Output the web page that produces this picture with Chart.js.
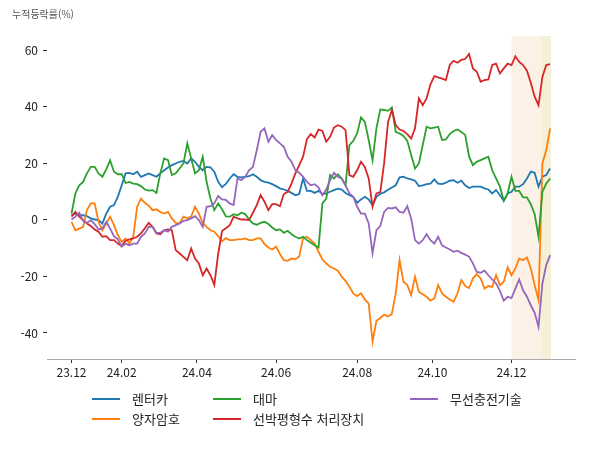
<!DOCTYPE html>
<html lang="ko">
<head>
<meta charset="utf-8">
<script src="https://cdn.jsdelivr.net/npm/chart.js@4.4.1/dist/chart.umd.min.js"></script>
<style>
  body { margin: 0; background: #fff; font-family: "Noto Sans CJK KR", "DejaVu Sans", sans-serif; }
  #wrap { position: relative; width: 600px; height: 450px; }
  #unit { position: absolute; left: 12px; top: 6px; font-size: 10px; color: #555; }
  .item { position: absolute; font-size: 13px; color: #222; white-space: nowrap; line-height: 16px; }
  .item i { display: inline-block; width: 28px; height: 2px; vertical-align: middle; margin-right: 12px; position: relative; top: -1px; }
</style>
</head>
<body>
<div id="wrap">
  <canvas id="chart" width="600" height="450"></canvas>
  <div id="unit">누적등락률(%)</div>
  <div id="legend"></div>
</div>
<script>
// trading-day index of each sample (every 2nd session from 23.12.21)
const tradingDays = Array.from({ length: 125 }, (_, k) => k * 2);

const rentalCar = [
  1.6, 2.2, 1.6, 1.6, 1.3, 0.5, 0.1, -0.1, -1.3, 2.2,
  4.6, 5.2, 8.1, 12.2, 16.4, 16.6, 16.1, 17, 15.2, 15.8,
  16.4, 15.8, 15.2, 16.4, 17.5, 18.5, 19.3, 19.9, 20.5, 20.8,
  19.9, 21.7, 20.5, 18.7, 17.5, 18.7, 18.5, 17, 13.4, 11.5,
  12.7, 14.6, 16.1, 15.2, 15, 15.2, 15.4, 16.1, 15.2, 14,
  13.4, 13.1, 12.6, 11.9, 11.1, 10.7, 10.2, 9.5, 8.7, 9.1,
  14.6, 10.2, 10.2, 9.5, 10.2, 9.1, 9.3, 9.9, 10.5, 11,
  10.7, 9.5, 8.7, 8.1, 6, 7.2, 8.1, 7.2, 5.2, 8.1,
  9.2, 9.7, 10.6, 11.4, 12.2, 15, 15.2, 14.6, 14.3, 13.8,
  11.9, 12.2, 12.6, 12.8, 14.3, 12.8, 12.6, 13.1, 13.8, 14,
  13.1, 13.8, 12.2, 11.2, 11.7, 11.7, 11.7, 11.1, 10.7, 9.3,
  10.5, 8.7, 6.7, 9.3, 9.9, 11.7, 11.7, 12.6, 14.6, 17,
  16.6, 11.7, 15.2, 15.8, 18.1
];

const quantumCrypto = [
  -0.7, -3.7, -3.1, -2.5, 3.4, 5.8, 5.8, -0.7, -3.7, -1.3,
  1.1, -1.9, -5.4, -7.8, -6.6, -8.4, -6, 4.6, 7.5, 6,
  5, 3.4, 3.7, 2.8, 2.2, 2.8, 0.5, -1.1, -1.3, 1.1,
  0.5, 1.1, 4.6, 2.2, -1.1, -2.5, -3.7, -4.2, -5.8, -7.6,
  -6.5, -7.2, -7.2, -6.9, -6.9, -6.6, -7.2, -7.2, -6.6, -6.6,
  -8.6, -9.8, -10.5, -9.5, -12.1, -14.3, -14.5, -13.7, -14, -13,
  -6.5, -6, -7.2, -8.4, -11.3, -14, -15.4, -16.6, -17.2, -18,
  -20.1, -21.6, -23.7, -26, -27, -26, -28.2, -29.6, -43.1, -35.7,
  -34.7, -33.5, -34.2, -33.3, -26, -14.3, -21.9, -23.1, -26.6, -20.1,
  -25.4, -26.3, -27.2, -28.6, -27.8, -23.1, -26, -27.2, -28.2, -29,
  -26, -21.3, -23.4, -24.1, -20.7, -19.2, -20.7, -24.3, -23.4, -23.7,
  -19.6, -23.1, -21.9, -16.8, -19.6, -17.2, -13.7, -14.3, -13.3, -17.2,
  -23.1, -28.4, 19.9, 24.6, 32.3
];

const cannabis = [
  2.2, 9.3, 12.2, 13.4, 16.4, 18.7, 18.7, 16.4, 15.2, 17.8,
  21, 17, 16.1, 16.1, 13, 13.4, 12.8, 12.6, 11.9, 10.7,
  10.3, 10.5, 9.5, 16.4, 21.7, 21.1, 15.8, 16.4, 18.1, 19.9,
  27, 21.7, 16.4, 17.5, 22.3, 13.4, 7.5, 3.4, 5.8, 3.7,
  1.2, 1.1, 2, 1.6, 2.5, 2, 0.1, -1.3, -1.8, -1.1,
  -0.7, -1.5, -2.7, -3.7, -3.4, -4.6, -3.9, -5.1, -6, -6.6,
  -6, -7.2, -8.1, -9, -9.8, 5.8, 7.5, 15.8, 14.6, 16.1,
  14.6, 12.2, 26.4, 27.9, 30.5, 36.2, 34.6, 28.2, 21, 32.3,
  39, 38.8, 38.5, 39.7, 31.1, 30.5, 29.6, 27.9, 22.9, 18.1,
  19.9, 26.4, 32.9, 32.3, 32.6, 32.9, 28.2, 28.4, 30.3, 31.4,
  31.9, 31, 30, 22.4, 19.3, 20.5, 21.1, 21.7, 22.3, 17.5,
  14.6, 11.7, 6.7, 9.3, 15.2, 10.2, 10.2, 7.9, 7.9, 5.5,
  2, -6, 9.9, 12.8, 14.6
];

const ballastWater = [
  1.1, 2.8, 1.1, -0.1, -1.3, -2.2, -3.4, -4.2, -6, -5.8,
  -7.2, -7.2, -8.4, -9.3, -7.4, -6.9, -6.6, -6, -4.8, -3,
  -1.1, -2.5, -4.8, -5.1, -3.7, -3.4, -3.7, -10.7, -11.9, -13.1,
  -14.3, -10.1, -13.7, -15.4, -19.6, -17.2, -19.6, -23, -12, -4,
  -3, -1.9, 1.1, 0.5, 0.1, 0.1, -0.1, 2.5, 5.2, 8.7,
  6.4, 3.4, 5.5, 5.5, 4.8, 9.1, 9.9, 12.8, 16.4, 19.3,
  22.3, 28.5, 30.3, 29.1, 31.9, 31.4, 27.6, 29.3, 32.6, 33.4,
  32.9, 31.7, 15.8, 15.2, 17.5, 20.5, 18.7, 14.6, 4.6, 9.3,
  9.8, 20, 34.5, 38.8, 33.5, 31.9, 31.4, 30.3, 28.7, 32.3,
  42.9, 40.5, 42.9, 47.9, 50.8, 50.3, 49.9, 49.4, 54.7, 56.2,
  55.5, 56.5, 56.8, 58.6, 53.5, 52.3, 48.8, 49.4, 49.6, 54.7,
  55.2, 51.7, 53.5, 55.2, 54.7, 57.8, 55.8, 54.7, 52.7, 48.4,
  43.5, 40.5, 50.5, 54.7, 55
];

const wirelessCharging = [
  0.1, 1.1, 2.5, -0.4, -1.1, -0.1, -1.5, -3.4, -3.1, -0.7,
  -3.1, -5.8, -6.9, -9.5, -8.4, -9, -8.4, -8.4, -6, -4.8,
  -2.5, -2.5, -4.6, -4.6, -3.7, -4.2, -2.5, -1.9, -1.3, -0.4,
  -0.1, 0.5, 1.3, -0.1, -2.5, 4.6, 4.8, 5.8, 8.4, 7.2,
  7, 5.8, 5.2, 14.6, 14, 15.2, 17.5, 18.7, 24.6, 31.1,
  32.3, 27.6, 29.9, 28.2, 27, 25.8, 22.3, 20.5, 17.5, 16.6,
  15.2, 13.4, 12.2, 12.6, 11.4, 8.7, 10.7, 14, 16.6, 15.2,
  14.6, 12.2, 9.3, 8.1, 4.6, 2.2, 2.2, -1.3, -11.9, -3.7,
  -2.2, 2.8, 4.2, 4, 4.4, 2.8, 2.5, 4.8, 0.5, -7.2,
  -8.4, -7.2, -5.1, -7.2, -8.4, -6, -9, -9.8, -10.5, -11.3,
  -10.9, -11.7, -12.3, -13, -15.4, -18.4, -18.7, -18, -19.6, -21.1,
  -22.5, -25.1, -28.6, -27.2, -27.7, -24.3, -21.1, -24.9, -27.2, -30.2,
  -32.9, -37.8, -22.5, -16, -12.5
];

const seriesNames = ['렌터카', '양자암호', '대마', '선박평형수 처리장치', '무선충전기술'];
const seriesValues = [rentalCar, quantumCrypto, cannabis, ballastWater, wirelessCharging];
const seriesColors = ['#1f77b4', '#ff7f0e', '#2ca02c', '#d62728', '#9467bd'];

const tickDays = [0, 26, 65, 106, 148, 187, 228];
const tickLabels = ['23.12', '24.02', '24.04', '24.06', '24.08', '24.10', '24.12'];
const yTicks = [-40, -20, 0, 20, 40, 60];

// shaded periods (trading-day index from / to)
const spanStart = [228, 243.3];
const spanEnd = [243.3, 248.5];
const spanColors = ['#fbf1e7', '#f5f1d7'];

const shadePlugin = {
  id: 'shade',
  beforeDatasetsDraw(chart) {
    const { ctx, chartArea, scales } = chart;
    ctx.save();
    spanStart.forEach((s, k) => {
      const x1 = scales.x.getPixelForValue(s);
      const x2 = scales.x.getPixelForValue(spanEnd[k]);
      ctx.fillStyle = spanColors[k];
      ctx.fillRect(x1, chartArea.top, x2 - x1, chartArea.bottom - chartArea.top);
    });
    ctx.restore();
  }
};

const font = { family: '"Noto Sans CJK KR", "DejaVu Sans", sans-serif', size: 12 };

const chart = new Chart(document.getElementById('chart'), {
  type: 'line',
  data: {
    datasets: seriesNames.map((name, i) => ({
      label: name,
      data: tradingDays.map((d, k) => ({ x: d, y: seriesValues[i][k] })),
      borderColor: seriesColors[i],
      backgroundColor: seriesColors[i],
      borderWidth: 1.8,
      pointRadius: 0,
      tension: 0,
      order: seriesNames.length - i
    }))
  },
  options: {
    responsive: false,
    devicePixelRatio: 1,
    animation: false,
    layout: { padding: { top: 36, right: 25, bottom: 61, left: 0 } },
    plugins: { legend: { display: false }, tooltip: { enabled: false } },
    scales: {
      x: {
        type: 'linear',
        min: -12.7,
        max: 260.9,
        afterBuildTicks: s => { s.ticks = tickDays.map(v => ({ value: v })); },
        afterFit: s => { s.height = 30; },
        ticks: {
          callback: (v, i) => tickLabels[i],
          color: '#222', font, padding: 2, maxRotation: 0, autoSkip: false
        },
        grid: { drawOnChartArea: false, tickLength: 4, color: '#333' },
        border: { display: true, color: '#aaa', width: 1 }
      },
      y: {
        min: -49.2,
        max: 64.95,
        afterBuildTicks: s => { s.ticks = yTicks.map(v => ({ value: v })); },
        afterFit: s => { s.width = 47; },
        ticks: { color: '#222', font, padding: 5 },
        grid: { drawOnChartArea: false, tickLength: 4, color: '#333' },
        border: { display: false }
      }
    }
  },
  plugins: [shadePlugin]
});

// legend below the plot, filled column by column like the original
const legendCols = [92, 213, 410];
const legendRows = [391, 411];
const legendBox = document.getElementById('legend');
chart.data.datasets.forEach((ds, i) => {
  const item = document.createElement('div');
  item.className = 'item';
  item.style.left = legendCols[Math.floor(i / 2)] + 'px';
  item.style.top = legendRows[i % 2] + 'px';
  item.innerHTML = '<i style="background:' + ds.borderColor + '"></i>' + ds.label;
  legendBox.appendChild(item);
});
</script>
</body>
</html>
